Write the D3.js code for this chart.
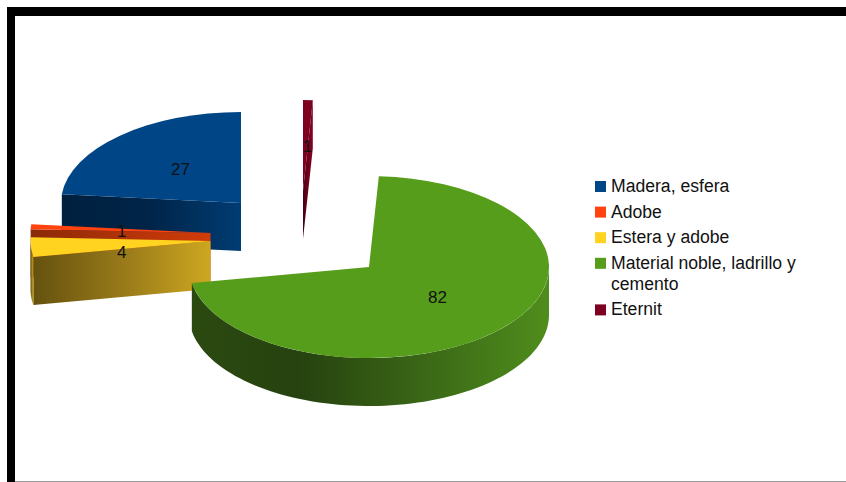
<!DOCTYPE html>
<html>
<head>
<meta charset="utf-8">
<style>
  html, body { margin: 0; padding: 0; background: #fff; }
  svg { display: block; }
  text { font-family: "Liberation Sans", Arial, sans-serif; fill: #111; }
</style>
<script src="https://cdn.jsdelivr.net/npm/d3@7/dist/d3.min.js"></script>
</head>
<body>
<svg id="chart" width="846" height="482"></svg>
<script>
// Housing material counts, in legend order.
const categories = ["Madera, esfera", "Adobe", "Estera y adobe", "Material noble, ladrillo y cemento", "Eternit"];
const legendLines = [["Madera, esfera"], ["Adobe"], ["Estera y adobe"], ["Material noble, ladrillo y", "cemento"], ["Eternit"]];
const values = [27, 1, 4, 82, 1];
const topColors = ["#004586", "#ff420e", "#ffd320", "#579d1c", "#7e0021"];
const wallColors = [
  ["#00203f", "#002549", "#003c73"],
  ["#8a2a08", "#b03208", "#d13c0a"],
  ["#65520f", "#98791a", "#cda720"],
  ["#2b4a10", "#264210", "#4f8d1c"],
  ["#4a0014", "#6a001c", "#8a0026"]
];
const wallMidStops = [0.5, 0.5, 0.5, 0.3, 0.5];
// Apex of each exploded slice on the screen.
const apexes = [[241, 203], [210.5, 233], [210.5, 241], [369, 267], [303, 191]];
const labelShiftY = [0, 1, 8, 0, 0];
const labelShiftX = [0, 1, 1, 1, 2];

const W = 846, H = 482;
const rx = 180, ry = 91, depth = 48;
const TAU = Math.PI * 2;

const svg = d3.select("#chart");
const defs = svg.append("defs");

// The frame: heavy black rule along the top and left, hairline grey at the bottom.
svg.append("rect").attr("x", 7).attr("y", 7).attr("width", W - 7).attr("height", 9).attr("fill", "#000");
svg.append("rect").attr("x", 7).attr("y", 7).attr("width", 8).attr("height", H - 7).attr("fill", "#000");
svg.append("rect").attr("x", 15).attr("y", 481).attr("width", W - 15).attr("height", 1).attr("fill", "#9a9a9a");

const color = d3.scaleOrdinal().domain(categories).range(topColors);

// Slices run counter-clockwise from twelve o'clock.
const pie = d3.pie().sort(null).startAngle(0).endAngle(-TAU);
const slices = pie(values).map((d, i) => {
  const hi = d.startAngle + TAU;
  const lo = d.endAngle + TAU;
  return { ...d, i, lo, hi, cx: apexes[i][0], cy: apexes[i][1], name: categories[i] };
});

const px = (s, a) => s.cx + rx * Math.sin(a);
const py = (s, a) => s.cy - ry * Math.cos(a);
const lineGen = d3.line().x(p => p[0]).y(p => p[1]);
const arcGen = d3.arc().innerRadius(0).outerRadius(rx);

slices.forEach(s => {
  const g = defs.append("linearGradient").attr("id", "wall" + s.i)
    .attr("x1", 0).attr("x2", 1).attr("y1", 0).attr("y2", 0);
  [0, wallMidStops[s.i], 1].forEach((off, k) => {
    g.append("stop").attr("offset", off).attr("stop-color", wallColors[s.i][k]);
  });
});

// Back-to-front: green sits over the yellow wall, yellow over orange, orange over blue.
const paintOrder = [0, 4, 1, 2, 3];

paintOrder.forEach(idx => {
  const s = slices[idx];
  const layer = svg.append("g").attr("class", "slice");
  const fillWall = `url(#wall${s.i})`;

  // Cut face at an angle, drawn when it turns toward the viewer.
  const cutFace = a => {
    const pts = [[s.cx, s.cy], [px(s, a), py(s, a)], [px(s, a), py(s, a) + depth], [s.cx, s.cy + depth]];
    layer.append("path").attr("d", lineGen(pts) + "Z").attr("fill", fillWall);
  };
  if (Math.sin(s.lo) < -1e-6) cutFace(s.lo);
  if (Math.sin(s.hi) > 1e-6) cutFace(s.hi);

  // Outer rim: only the part on the near half of the ellipse shows.
  const a0 = Math.max(s.lo, Math.PI / 2), a1 = Math.min(s.hi, Math.PI * 1.5);
  if (a1 > a0) {
    const angles = d3.range(0, 81).map(k => a0 + (a1 - a0) * k / 80);
    const upper = angles.map(a => [px(s, a), py(s, a)]);
    const lower = angles.map(a => [px(s, a), py(s, a) + depth]).reverse();
    layer.append("path").attr("d", lineGen(upper.concat(lower)) + "Z").attr("fill", fillWall);
  }

  // Top surface: a circular arc squashed into the tilted plane.
  layer.append("path")
    .attr("d", arcGen({ startAngle: s.lo, endAngle: s.hi }))
    .attr("transform", `translate(${s.cx},${s.cy}) scale(1,${ry / rx})`)
    .attr("fill", color(s.name));
});

// Value labels sit halfway along the radius of each top surface.
const labels = svg.append("g").attr("font-size", 17).attr("text-anchor", "middle");
slices.forEach(s => {
  const mid = (s.lo + s.hi) / 2;
  labels.append("text")
    .attr("x", s.cx + rx * 0.5 * Math.sin(mid) + labelShiftX[s.i])
    .attr("y", s.cy - ry * 0.5 * Math.cos(mid) + labelShiftY[s.i])
    .attr("dy", "0.36em")
    .text(values[s.i]);
});

// Legend with one wrapped entry.
const legend = svg.append("g").attr("font-size", 17.6);
let baseline = 192;
categories.forEach((name, i) => {
  legend.append("rect").attr("x", 595).attr("y", baseline - 11).attr("width", 11).attr("height", 11)
    .attr("fill", color(name));
  const t = legend.append("text").attr("x", 611).attr("y", baseline);
  legendLines[i].forEach((line, k) => {
    t.append("tspan").attr("x", 611).attr("dy", k ? 21 : 0).text(line);
  });
  baseline += 25.6 + (legendLines[i].length - 1) * 21;
});
</script>
</body>
</html>
